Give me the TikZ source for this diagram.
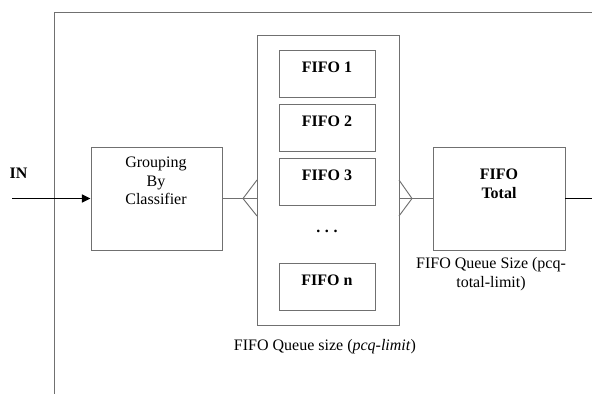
\documentclass[tikz,border=0pt]{standalone}
\usepackage{fontspec}
\setmainfont{Liberation Serif}
\usetikzlibrary{arrows.meta}
\definecolor{boxline}{RGB}{112,112,112}
\tikzset{
  txt/.style={font=\fontsize{12}{13.9}\selectfont},
  bold/.style={font=\fontsize{12}{13.9}\selectfont\bfseries},
  box/.style={draw=boxline, line width=0.7pt, inner sep=0pt},
  fifo/.style={box, minimum width=72pt, minimum height=35.25pt}
}
\begin{document}
\begin{tikzpicture}[x=0.75pt,y=-0.75pt]
  \useasboundingbox (0,0) rectangle (592,394);
  \draw[boxline, line width=0.7pt] (592,12) -- (54,12) -- (54,394);
  \draw
    (156.5,198.5) node[box, minimum width=98.25pt, minimum height=77.25pt] (grp){}
    (328,180) node[box, minimum width=106.5pt, minimum height=217.5pt] (cont){}
    (327,73.5) node[fifo] (f1){}
    (327,127.5) node[fifo] (f2){}
    (327,182) node[fifo] (f3){}
    (327,287) node[fifo] (fn){}
    (499,198.5) node[box, minimum width=99pt, minimum height=77.25pt] (tot){};
  \draw
    (18.5,173) node[bold] (in){IN}
    (156,181) node[txt, align=center] (grplab){Grouping\\By\\Classifier}
    (327,67) node[bold] (f1lab){FIFO 1}
    (327,121) node[bold] (f2lab){FIFO 2}
    (327,175) node[bold] (f3lab){FIFO 3}
    (327,231) node[bold] (dots){.\hspace{3.5pt}.\hspace{3.5pt}.}
    (327,280) node[bold] (fnlab){FIFO n}
    (499,184) node[bold, align=center] (totlab){FIFO\\Total}
    (491,274) node[txt, align=center] (totcap){FIFO Queue Size (pcq-\\total-limit)}
    (325,347) node[txt] (contcap){FIFO Queue size (\textit{pcq-limit})};
  \coordinate (src) at (12,198.5);
  \coordinate (sink) at (592,198.5);
  \begin{scope}[boxline, line width=0.7pt]
    \draw (grp.east) -- (grp.east -| cont.west);
    \draw (tot.west -| cont.east) -- (tot.west);
    \draw (257,180) -- (243,198.5) -- (257,216);
    \draw (399,180) -- (412,198.5) -- (399,216);
  \end{scope}
  \begin{scope}[line width=1.1pt]
    \draw[-{Triangle[length=6.5pt,width=6pt]}] (src) -- (grp.west);
    \draw (tot.east) -- (sink);
  \end{scope}
\end{tikzpicture}
\end{document}
